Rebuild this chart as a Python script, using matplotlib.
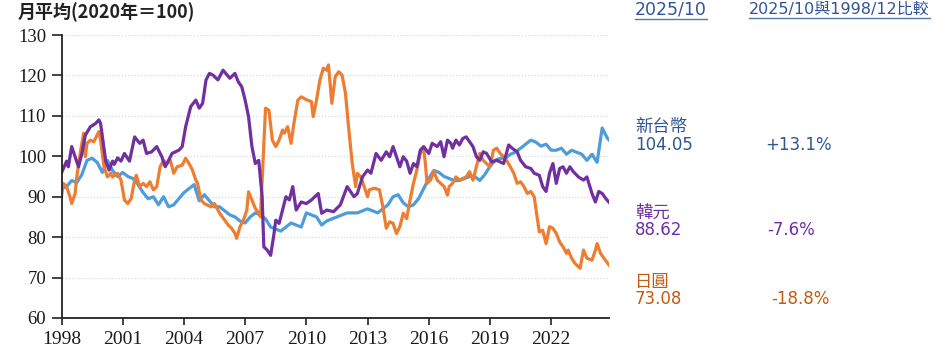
import matplotlib
matplotlib.use("Agg")
import matplotlib.pyplot as plt
from matplotlib.lines import Line2D

# month offsets from 1998/12
twd_m = list(range(0, 322, 3)) + [322]
twd = [92.0, 92.5, 94, 93.5, 95.5, 99, 99.5, 98.5, 96, 99, 96.5, 95, 96, 95, 94.5, 93,
       91, 89.5, 90, 88, 90, 87.5, 88, 89.5, 91, 92, 93, 89, 90.5, 89, 87.5, 87.5,
       86.5, 85.5, 85, 84, 83.5, 85, 86, 85.5, 84.5, 82.5, 82, 81.5, 82.5, 83.5, 83, 82.5,
       86, 85.5, 85, 83, 84, 84.5, 85, 85.5, 86, 86, 86, 86.5, 87, 86.5, 86, 87,
       88, 90, 90.5, 88.5, 87.5, 88, 89.5, 92, 94.5, 96.5, 96, 95, 94.5, 94, 94, 94.5,
       95, 95, 94, 95.5, 97.5, 99, 99.5, 99.5, 100.5, 101, 102, 103, 104, 103.5, 102.5, 103,
       101.5, 101.5, 102, 100.5, 101.5, 101, 100.5, 99, 100.5, 98.5, 107, 104.5, 104.05]

krw_m = [0, 3, 4, 6, 8, 10, 12, 14, 17, 20, 22, 23, 26, 28, 30, 31, 33, 35, 37, 40,
         43, 46, 48, 50, 53, 56, 59, 61, 63, 65, 69, 71, 73, 76, 79, 81, 83, 85, 87, 89,
         92, 95, 99, 102, 104, 106, 108, 110, 112, 114, 116, 118, 119, 121, 123, 125, 126, 128, 130, 132,
         134, 136, 138, 141, 144, 147, 151, 153, 156, 160, 164, 168, 172, 174, 177, 180, 182, 185, 188, 191,
         193, 195, 197, 199, 201, 203, 205, 207, 209, 211, 213, 216, 218, 221, 223, 225, 227, 229, 230, 232,
         234, 236, 238, 240, 242, 244, 246, 248, 250, 253, 256, 260, 263, 265, 268, 270, 273, 276, 278, 281,
         283, 285, 287, 289, 291, 293, 295, 297, 299, 301, 304, 307, 309, 312, 314, 316, 318, 320, 322]
krw = [95.9, 98.8, 97.4, 102.4, 99.9, 97.4, 100.7, 105.2, 107.3, 108.1, 109, 108.1, 98.8, 96.6, 98.8, 98, 99.6, 98.8, 100.7, 98.8,
       104.8, 103.2, 104, 100.7, 101.1, 102.4, 99.9, 97.4, 99, 100.7, 101.5, 102.4, 107.3, 112.3, 113.9, 111.9, 113.1, 118.9, 120.5, 120.1,
       118.9, 121.3, 119.3, 120.5, 118.4, 117.2, 113.9, 109.8, 102.4, 98.2, 99, 90, 77.6, 76.8, 75.5, 80.9, 84.2, 83.4, 86.7, 90,
       89.2, 92.5, 86.7, 88.7, 88.3, 89.2, 90.8, 85.9, 86.7, 86.3, 88, 92.5, 90, 90.8, 94.9, 96.6, 95.8, 100.7, 99, 101.1,
       99.9, 102.4, 99.9, 97.4, 99.9, 98.8, 95.8, 98.2, 97.4, 101.5, 102.4, 100.7, 103.2, 102.4, 103.6, 99.9, 104, 103.2, 102, 104,
       102.8, 104.4, 104.8, 103.6, 102.4, 99.9, 99, 101.1, 100.7, 98.6, 99, 98.2, 102.8, 102, 101.1, 99, 97.4, 97, 95.8, 95.3,
       92.5, 91.3, 95.8, 98.2, 93.3, 97, 97.4, 95.8, 97.4, 96.2, 94.9, 94.1, 94.9, 90.8, 88.7, 91.3, 90.8, 89.6, 88.62]

jpy_m = [0, 1, 3, 5, 6, 8, 9, 11, 13, 14, 15, 17, 19, 22, 23, 25, 27, 29, 30, 33,
         35, 37, 39, 41, 43, 44, 46, 48, 50, 52, 54, 56, 58, 60, 62, 64, 66, 68, 71, 73,
         75, 77, 79, 80, 82, 84, 86, 88, 90, 93, 96, 98, 100, 102, 103, 105, 107, 109, 110, 112,
         114, 116, 117, 118, 120, 122, 124, 126, 128, 130, 131, 133, 135, 137, 139, 141, 144, 147, 148, 150,
         152, 154, 156, 157, 159, 161, 163, 165, 167, 169, 171, 173, 174, 176, 178, 180, 181, 184, 187, 189,
         191, 193, 195, 197, 199, 201, 203, 205, 207, 209, 211, 213, 214, 215, 217, 219, 221, 223, 225, 227,
         228, 230, 232, 234, 236, 238, 240, 242, 244, 246, 248, 250, 252, 254, 256, 258, 260, 262, 264, 266,
         268, 270, 272, 274, 276, 278, 280, 281, 283, 285, 287, 289, 291, 293, 295, 297, 298, 300, 302, 305,
         307, 309, 312, 314, 315, 317, 319, 322]
jpy = [90.0, 93.3, 92.5, 90, 88.3, 90.8, 94.9, 100.7, 105.7, 99.9, 103.2, 104, 103.6, 106.1, 104, 97.4, 94.9, 95.8, 94.9, 95.8,
       94.1, 89.2, 88.3, 89.6, 94.1, 95.3, 92.5, 93.3, 92.5, 93.7, 91.7, 92.5, 97.4, 99, 98.2, 99, 95.8, 97.4, 97.8, 99.5,
       98.2, 96.6, 94.1, 93.3, 89.2, 88.3, 87.9, 87.5, 88.3, 85.9, 84.2, 83, 82.2, 80.9, 79.7, 82.6, 84.2, 86.7, 91.2, 89.2,
       87.1, 85.9, 85, 94.1, 111.9, 111.4, 104, 102.4, 104, 106.5, 105.7, 107.3, 103.2, 109, 113.9, 114.7, 114, 113.5, 109.8, 113.9,
       118.9, 121.8, 121.3, 122.6, 113.1, 119.7, 120.9, 120.1, 115.6, 106.5, 98.2, 92.5, 95.8, 94.9, 92.5, 90, 91.7, 92.1, 91.7, 87.5,
       82.2, 83.8, 83.4, 80.9, 82.6, 85.9, 84.6, 89.2, 93.3, 96.6, 100.7, 102, 98.2, 93.3, 94.1, 96.2, 94.1, 93.3, 92.5, 90.4,
       92.5, 93.3, 94.9, 94.1, 94.5, 94.9, 96.2, 94.1, 97.4, 100.7, 99, 98.2, 97.4, 101.5, 102, 100.7, 99.9, 98.8, 97.4, 95.8,
       93.3, 93.7, 92.5, 90.8, 91.3, 90, 84.2, 81.3, 81.7, 78.4, 82.6, 82.2, 80.9, 78.8, 77.6, 76, 76.8, 74.8, 73.5, 72.3,
       76.8, 74.8, 74.3, 76.8, 78.4, 76, 74.8, 73.08]

tick_pos = [0, 36, 72, 108, 144, 180, 216, 252, 288]
tick_labels = ["1998", "2001", "2004", "2007", "2010", "2013", "2016", "2019", "2022"]
y_ticks = [60, 70, 80, 90, 100, 110, 120, 130]

title_text = "月平均(2020年＝100)"
hdr_date = "2025/10"
hdr_cmp = "2025/10與1998/12比較"
names = ["新台幣", "韓元", "日圓"]
latest = ["104.05", "88.62", "73.08"]
changes = ["+13.1%", "-7.6%", "-18.8%"]

c_twd, c_krw, c_jpy = "#4E9DDA", "#7030A0", "#ED7D31"
t_twd, t_krw, t_jpy = "#2F5597", "#7030A0", "#C55A11"

W, H = 946, 362
fig = plt.figure(figsize=(W / 100, H / 100), dpi=100)
fig.patch.set_facecolor("white")
ax = fig.add_axes([61.5 / W, 1 - 318 / H, (609 - 61.5) / W, (318 - 35) / H])

ax.plot(twd_m, twd, color=c_twd, lw=2.3, solid_joinstyle="round")
ax.plot(jpy_m, jpy, color=c_jpy, lw=2.3, solid_joinstyle="round")
ax.plot(krw_m, krw, color=c_krw, lw=2.3, solid_joinstyle="round")

ax.set_xlim(0, 322)
ax.set_ylim(60, 130)
ax.set_yticks(y_ticks)
ax.set_xticks(tick_pos)
ax.set_xticklabels(tick_labels)
for v in y_ticks[1:]:
    ax.axhline(v, color="#d9d9d9", lw=0.9, ls=(0, (1, 1.5)), zorder=0)
for s in ["top", "right"]:
    ax.spines[s].set_visible(False)
for s in ["left", "bottom"]:
    ax.spines[s].set_color("#222222")
    ax.spines[s].set_linewidth(1.3)
ax.tick_params(axis="y", direction="out", length=7, width=1.2, color="#222222", pad=4)
ax.tick_params(axis="x", direction="out", length=5, width=1.2, color="#222222", pad=4)
for lab in ax.get_yticklabels():
    lab.set_fontfamily("Liberation Serif")
    lab.set_fontsize(13.5)
    lab.set_color("#1a1a1a")
for lab in ax.get_xticklabels():
    lab.set_fontfamily("Liberation Serif")
    lab.set_fontsize(14)
    lab.set_color("#1a1a1a")

fam = ["DejaVu Sans", "Noto Sans CJK TC"]
cjk = ["Noto Sans CJK TC", "DejaVu Sans"]

def px(x, y):
    return x / W, 1 - y / H

fig.text(*px(18, 12), title_text, family=cjk, fontsize=13, color="#222222",
         ha="left", va="center", fontweight="bold")

h1 = fig.text(*px(635, 9), hdr_date, family=fam, fontsize=12.5, color=t_twd, ha="left", va="center")
h2 = fig.text(*px(749, 9), hdr_cmp, family=fam, fontsize=11.5, color=t_twd, ha="left", va="center")

rows = [(127, 145, t_twd, 765), (213, 230, t_krw, 767), (282, 299, t_jpy, 771)]
for (yn, yv, col, xc), nm, lv, ch in zip(rows, names, latest, changes):
    fig.text(*px(635, yn), nm, family=fam, fontsize=12.5, color=col, ha="left", va="center")
    fig.text(*px(635, yv), lv, family=fam, fontsize=12, color=col, ha="left", va="center")
    fig.text(*px(xc, yv), ch, family=fam, fontsize=12, color=col, ha="left", va="center")

fig.canvas.draw()
for t in (h1, h2):
    bb = t.get_window_extent()
    yline = bb.y0 - 1
    fig.add_artist(Line2D([bb.x0 / W, bb.x1 / W], [yline / H, yline / H],
                          transform=fig.transFigure, color=t_twd, lw=1.0, alpha=0.8))

fig.savefig("out.png", dpi=100, facecolor="white")
